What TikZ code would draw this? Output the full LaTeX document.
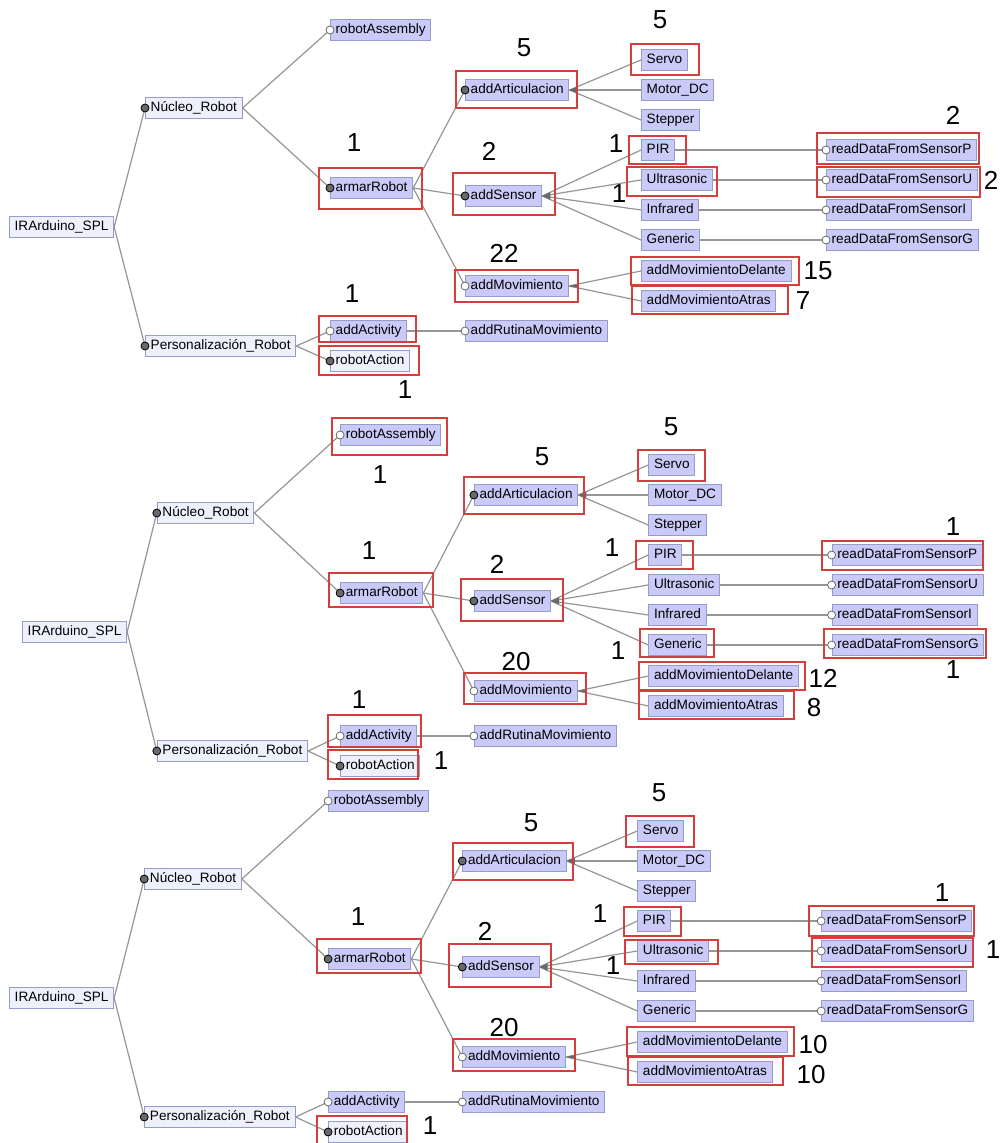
\documentclass[tikz,border=0pt]{standalone}
\usepackage{fontspec}
\setmainfont{Liberation Sans}
\usetikzlibrary{calc}

\definecolor{featblue}{RGB}{202,202,248}
\definecolor{featpale}{RGB}{238,240,252}
\definecolor{featedge}{RGB}{150,156,200}
\definecolor{linkgray}{RGB}{150,150,150}
\definecolor{markgray}{RGB}{105,105,105}
\definecolor{hlred}{RGB}{214,62,62}

\tikzset{
  concrete/.style={draw=featedge, fill=featblue, anchor=west, line width=0.5pt,
    font=\fontsize{6.8}{8}\selectfont, inner xsep=2.6pt, inner ysep=1.9pt,
    text height=5.2pt, text depth=1.4pt},
  abstract/.style={concrete, fill=featpale},
  fmlink/.style={draw=linkgray, line width=0.6pt},
  mand/.style={fill=markgray},
  opt/.style={draw=markgray, fill=white, line width=0.4pt},
  grp/.style={fill=markgray},
  hlbox/.style={draw=hlred, line width=0.85pt},
  cnt/.style={font=\fontsize{13}{14}\selectfont, inner sep=0pt}
}

% mandatory / optional markers and the group wedge
\newcommand{\fmmand}[1]{\filldraw[mand] (#1.west) circle (2pt);}
\newcommand{\fmopt}[1]{\filldraw[opt] (#1.west) circle (2pt);}
\newcommand{\fmgroup}[3]{\fill[grp] (#1.east) -- ($(#1.east)!4.5pt!(#2.west)$)
  -- ($(#1.east)!4.5pt!(#3.west)$) -- cycle;}

% one feature model, node names prefixed by #1
\newcommand{\fmtree}[1]{%
  \node[abstract] (#1root) at (9,227) {IRArduino\_SPL};
  \node[abstract] (#1nucleo) at (145,108) {Núcleo\_Robot};
  \node[abstract] (#1person) at (145,346) {Personalización\_Robot};
  \node[concrete] (#1assembly) at (330,30) {robotAssembly};
  \node[concrete] (#1armar) at (330,188) {armarRobot};
  \node[concrete] (#1activity) at (330,331) {addActivity};
  \node[abstract] (#1action) at (330,361) {robotAction};
  \node[concrete] (#1artic) at (465,90) {addArticulacion};
  \node[concrete] (#1sensor) at (465,196) {addSensor};
  \node[concrete] (#1movim) at (465,286) {addMovimiento};
  \node[concrete] (#1rutina) at (465,331) {addRutinaMovimiento};
  \node[concrete] (#1servo) at (641,60) {Servo};
  \node[concrete] (#1motor) at (641,90) {Motor\_DC};
  \node[concrete] (#1stepper) at (641,120) {Stepper};
  \node[concrete] (#1pir) at (641,150) {PIR};
  \node[concrete] (#1ultra) at (641,180) {Ultrasonic};
  \node[concrete] (#1infra) at (641,210) {Infrared};
  \node[concrete] (#1generic) at (641,240) {Generic};
  \node[concrete] (#1delante) at (641,271) {addMovimientoDelante};
  \node[concrete] (#1atras) at (641,301) {addMovimientoAtras};
  \node[concrete] (#1readP) at (826,150) {readDataFromSensorP};
  \node[concrete] (#1readU) at (826,180) {readDataFromSensorU};
  \node[concrete] (#1readI) at (826,210) {readDataFromSensorI};
  \node[concrete] (#1readG) at (826,240) {readDataFromSensorG};
  % edges
  \draw[fmlink] (#1root.east) -- (#1nucleo.west);
  \draw[fmlink] (#1root.east) -- (#1person.west);
  \draw[fmlink] (#1nucleo.east) -- (#1assembly.west);
  \draw[fmlink] (#1nucleo.east) -- (#1armar.west);
  \draw[fmlink] (#1person.east) -- (#1activity.west);
  \draw[fmlink] (#1person.east) -- (#1action.west);
  \draw[fmlink] (#1activity.east) -- (#1rutina.west);
  \foreach \c in {artic,sensor,movim}
    {\draw[fmlink] (#1armar.east) -- (#1\c.west);}
  \foreach \c in {servo,motor,stepper}
    {\draw[fmlink] (#1artic.east) -- (#1\c.west);}
  \foreach \c in {pir,ultra,infra,generic}
    {\draw[fmlink] (#1sensor.east) -- (#1\c.west);}
  \foreach \c in {delante,atras}
    {\draw[fmlink] (#1movim.east) -- (#1\c.west);}
  \foreach \s/\r in {pir/readP,ultra/readU,infra/readI,generic/readG}
    {\draw[fmlink] (#1\s.east) -- (#1\r.west);}
  % markers
  \foreach \c in {nucleo,person,armar,action,artic,sensor}
    {\fmmand{#1\c}}
  \foreach \c in {assembly,activity,movim,rutina,readP,readU,readI,readG}
    {\fmopt{#1\c}}
  \fmgroup{#1artic}{#1servo}{#1stepper}
  \fmgroup{#1sensor}{#1pir}{#1generic}
  \fmgroup{#1movim}{#1delante}{#1atras}
}

\begin{document}
\begin{tikzpicture}[x=0.5pt, y=-0.5pt]
  \useasboundingbox (0,0) rectangle (1002,1143);
  \fill[white] (0,0) rectangle (1002,1143);

  % first model
  \fmtree{a}
  \draw[hlbox] (319,168) rectangle (422,209);
  \node[cnt] (a-armar-n) at (354,143) {1};
  \draw[hlbox] (319,316) rectangle (416,342);
  \node[cnt] (a-activity-n) at (352,294) {1};
  \draw[hlbox] (319,346) rectangle (419,375);
  \node[cnt] (a-action-n) at (405,390) {1};
  \draw[hlbox] (456,71) rectangle (577,108);
  \node[cnt] (a-artic-n) at (524,48) {5};
  \draw[hlbox] (631,44) rectangle (699,75);
  \node[cnt] (a-servo-n) at (660,20) {5};
  \draw[hlbox] (453,173) rectangle (555,215);
  \node[cnt] (a-sensor-n) at (489,151) {2};
  \draw[hlbox] (629,136) rectangle (686,164);
  \node[cnt] (a-pir-n) at (616,144) {1};
  \draw[hlbox] (627,167) rectangle (717,196);
  \node[cnt] (a-ultra-n) at (619,194) {1};
  \draw[hlbox] (817,133) rectangle (979,164);
  \node[cnt] (a-readP-n) at (953,115) {2};
  \draw[hlbox] (817,167) rectangle (980,197);
  \node[cnt] (a-readU-n) at (991,180) {2};
  \draw[hlbox] (455,270) rectangle (578,302);
  \node[cnt] (a-movim-n) at (504,253) {22};
  \draw[hlbox] (631,257) rectangle (799,285);
  \node[cnt] (a-delante-n) at (818,271) {15};
  \draw[hlbox] (632,286) rectangle (788,314);
  \node[cnt] (a-atras-n) at (803,301) {7};

  % second model
  \begin{scope}[shift={(13.1,405)}, xscale=0.991]
    \fmtree{b}
  \end{scope}
  \draw[hlbox] (332,418) rectangle (447,455);
  \node[cnt] (b-assembly-n) at (380,475) {1};
  \draw[hlbox] (329,573) rectangle (433,607);
  \node[cnt] (b-armar-n) at (369,551) {1};
  \draw[hlbox] (328,715) rectangle (421,747);
  \node[cnt] (b-activity-n) at (359,700) {1};
  \draw[hlbox] (328,750) rectangle (418,779);
  \node[cnt] (b-action-n) at (441,761) {1};
  \draw[hlbox] (464,477) rectangle (584,514);
  \node[cnt] (b-artic-n) at (542,457) {5};
  \draw[hlbox] (638,450) rectangle (705,481);
  \node[cnt] (b-servo-n) at (671,427) {5};
  \draw[hlbox] (461,579) rectangle (563,621);
  \node[cnt] (b-sensor-n) at (497,564) {2};
  \draw[hlbox] (636,541) rectangle (693,569);
  \node[cnt] (b-pir-n) at (612,548) {1};
  \draw[hlbox] (640,629) rectangle (714,657);
  \node[cnt] (b-generic-n) at (618,651) {1};
  \draw[hlbox] (822,541) rectangle (983,570);
  \node[cnt] (b-readP-n) at (953,527) {1};
  \draw[hlbox] (824,629) rectangle (986,658);
  \node[cnt] (b-readG-n) at (953,670) {1};
  \draw[hlbox] (464,673) rectangle (586,704);
  \node[cnt] (b-movim-n) at (516,662) {20};
  \draw[hlbox] (639,662) rectangle (805,690);
  \node[cnt] (b-delante-n) at (823,678) {12};
  \draw[hlbox] (639,691) rectangle (794,719);
  \node[cnt] (b-atras-n) at (814,708) {8};

  % third model
  \begin{scope}[shift={(0.1,771)}, xscale=0.994]
    \fmtree{c}
  \end{scope}
  \draw[hlbox] (317,939) rectangle (421,973);
  \node[cnt] (c-armar-n) at (358,917) {1};
  \draw[hlbox] (317,1143) |- (407,1116) -- (407,1143);
  \node[cnt] (c-action-n) at (430,1126) {1};
  \draw[hlbox] (453,843) rectangle (573,880);
  \node[cnt] (c-artic-n) at (531,823) {5};
  \draw[hlbox] (626,816) rectangle (694,847);
  \node[cnt] (c-servo-n) at (659,793) {5};
  \draw[hlbox] (449,944) rectangle (551,987);
  \node[cnt] (c-sensor-n) at (485,931) {2};
  \draw[hlbox] (624,907) rectangle (681,936);
  \node[cnt] (c-pir-n) at (600,914) {1};
  \draw[hlbox] (625,940) rectangle (718,964);
  \node[cnt] (c-ultra-n) at (613,966) {1};
  \draw[hlbox] (809,906) rectangle (974,936);
  \node[cnt] (c-readP-n) at (942,893) {1};
  \draw[hlbox] (812,938) rectangle (973,967);
  \node[cnt] (c-readU-n) at (993,950) {1};
  \draw[hlbox] (453,1039) rectangle (575,1071);
  \node[cnt] (c-movim-n) at (504,1028) {20};
  \draw[hlbox] (627,1027) rectangle (794,1056);
  \node[cnt] (c-delante-n) at (813,1045) {10};
  \draw[hlbox] (628,1057) rectangle (783,1085);
  \node[cnt] (c-atras-n) at (811,1075) {10};
\end{tikzpicture}
\end{document}
